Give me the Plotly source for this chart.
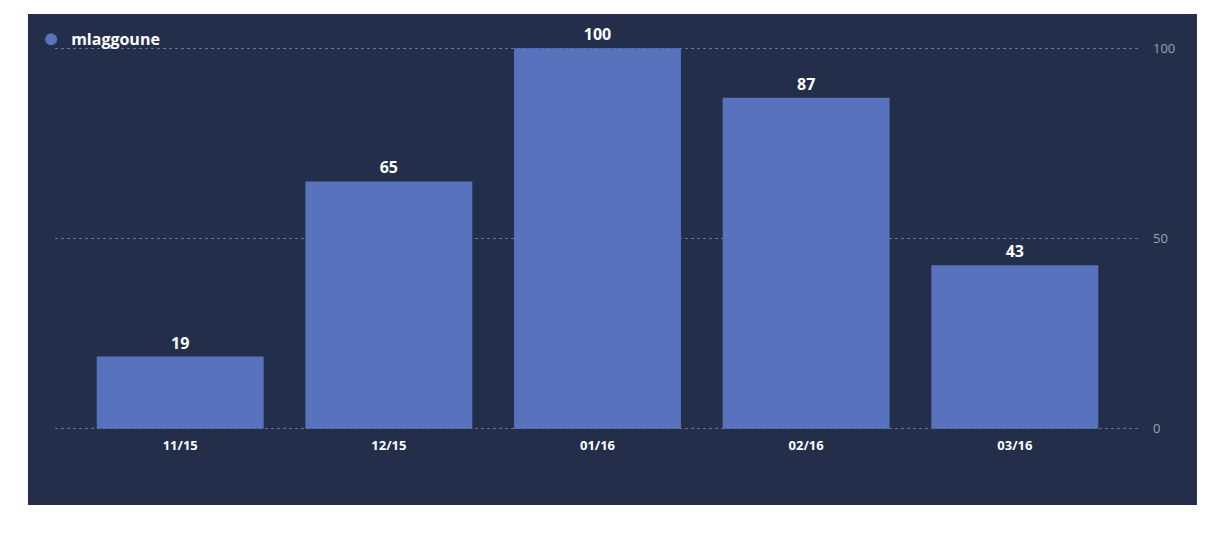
import plotly.graph_objects as go

categories = ["11/15", "12/15", "01/16", "02/16", "03/16"]
values = [19, 65, 100, 87, 43]
series_name = "mlaggoune"
bar_color = "#5872bd"
panel = "#232f4a"

fig = go.Figure()
fig.add_trace(go.Bar(x=categories, y=values, marker=dict(color=bar_color, line_width=0), showlegend=False,
                     text=[str(v) for v in values], textposition="outside", cliponaxis=False,
                     textfont=dict(color="white", size=16, family="Open Sans"),
                     texttemplate="<b>%{text}</b>", width=0.8))
fig.add_trace(go.Scatter(x=[None], y=[None], mode="markers", name="<b>" + series_name + "</b>",
                         marker=dict(color=bar_color, size=20, symbol="circle")))
fig.add_shape(type="rect", xref="paper", yref="paper", x0=-0.0249, x1=1.0525, y0=-0.196, y1=1.086,
              fillcolor=panel, line_width=0, layer="below")
fig.update_layout(
    width=1226, height=548, margin=dict(l=47, r=94, t=39, b=126),
    paper_bgcolor="white", plot_bgcolor=panel,
    font=dict(family="Open Sans"),
    legend=dict(x=-0.022, y=1.02, xanchor="left", yanchor="middle", orientation="h",
                font=dict(color="white", size=16), bgcolor="rgba(0,0,0,0)", itemsizing="constant"),
    xaxis=dict(tickfont=dict(color="white", size=13), ticklabelstandoff=6, showgrid=False,
               range=[-0.6, 4.6], tickprefix="<b>", ticksuffix="</b>"),
    yaxis=dict(side="right", range=[-0.3, 100.3], tickvals=[0, 50, 100], showgrid=True,
               gridcolor="#6a748a", griddash="dot", zeroline=False,
               tickfont=dict(color="#9aa1b0", size=13), ticklabelstandoff=12),
)
fig.write_html("out.html")
